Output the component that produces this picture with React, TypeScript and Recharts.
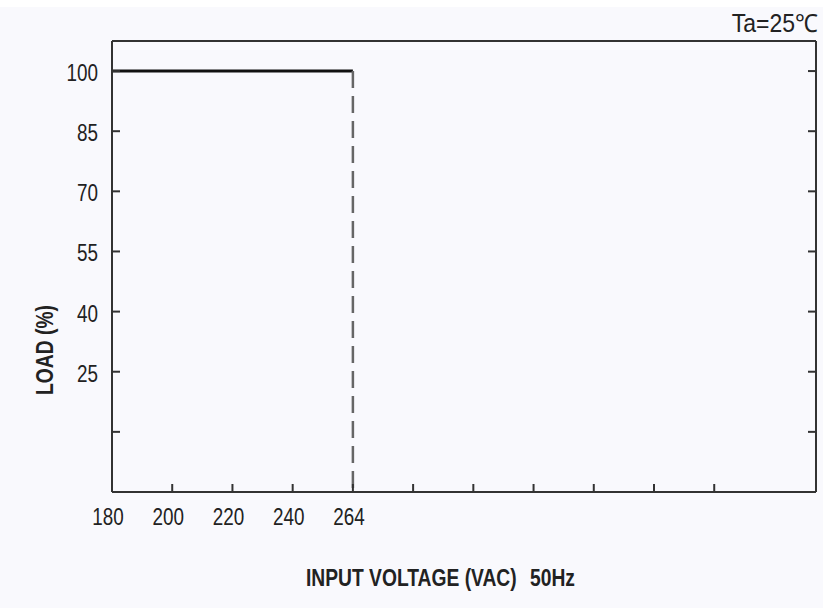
import { LineChart, Line, XAxis, YAxis, Label } from "recharts"

// x axis is drawn on evenly spaced slots, labelled like the datasheet
const voltageTicks = ["180", "200", "220", "240", "264", "", "", "", "", "", ""]
const loadTicks = [10, 25, 40, 55, 70, 85, 100]
const unlabelledLoad = [10]

const ratedVoltage = [180, 264]
const ratedLoad = [100, 100]
const cutoffVoltage = [264, 264]
const cutoffLoad = [100, -5]

const slot = (v: number) => voltageTicks.indexOf(String(v))
const ratedData = ratedVoltage.map((v, i) => ({ pos: slot(v), load: ratedLoad[i] }))
const cutoffData = cutoffVoltage.map((v, i) => ({ pos: slot(v), load: cutoffLoad[i] }))

const sans = "'Liberation Sans', Arial, sans-serif"
const squeeze = 0.82 // fake Arial Narrow
const axisStroke = { stroke: "#333", strokeWidth: 2 }
const slotTicks = voltageTicks.map((_, i) => i)
const xDomain = [0, 11.69]
const yDomain = [-5, 107.5]

function NarrowText({ x, y, anchor, children, size = 23, bold = false, rotate = 0, sx = squeeze }: any) {
  return (
    <g transform={`translate(${x} ${y}) rotate(${rotate}) scale(${sx} 1)`}>
      <text x={0} y={0} textAnchor={anchor} fontFamily={sans} fontSize={size} fontWeight={bold ? "bold" : "normal"} fill="#222">
        {children}
      </text>
    </g>
  )
}

function VoltTick({ x, y, payload }: any) {
  const label = voltageTicks[payload.value] ?? ""
  if (!label) return null
  return (
    <NarrowText x={x - 4} y={y + 17} anchor="middle">
      {label}
    </NarrowText>
  )
}

function LoadTick({ x, y, payload }: any) {
  if (unlabelledLoad.includes(payload.value)) return null
  return (
    <NarrowText x={x} y={y + 10} anchor="end">
      {payload.value}
    </NarrowText>
  )
}

export default function App() {
  return (
    <div
      style={{
        position: "absolute",
        top: 0,
        left: 0,
        width: 823,
        height: 608,
        background: "linear-gradient(#ffffff 0 7px, #f9f9fd 7px)",
      }}
    >
      <svg width={823} height={50} style={{ position: "absolute", top: 0, left: 0 }}>
        <NarrowText x={818} y={32} anchor="end" size={25} sx={0.92}>
          Ta=25℃
        </NarrowText>
      </svg>
      <LineChart width={823} height={608} margin={{ top: 40, right: 6, bottom: 0, left: 0 }} style={{ position: "absolute", top: 0, left: 0 }}>
        <XAxis
          dataKey="pos"
          type="number"
          domain={xDomain}
          ticks={slotTicks}
          interval={0}
          height={116}
          tickSize={-8}
          tickMargin={24}
          axisLine={axisStroke}
          tickLine={axisStroke}
          tick={<VoltTick />}
        >
          <Label
            content={({ viewBox }: any) => (
              <g>
                <NarrowText x={306} y={viewBox.y + 94} anchor="start" size={23.5} bold>
                  INPUT VOLTAGE (VAC)
                </NarrowText>
                <NarrowText x={530} y={viewBox.y + 94} anchor="start" size={23.5} bold>
                  50Hz
                </NarrowText>
              </g>
            )}
          />
        </XAxis>
        <XAxis
          xAxisId="top"
          orientation="top"
          dataKey="pos"
          type="number"
          domain={xDomain}
          height={1}
          tick={false}
          tickLine={false}
          axisLine={axisStroke}
        />
        <YAxis
          type="number"
          domain={yDomain}
          ticks={loadTicks}
          interval={0}
          width={112}
          tickSize={-8}
          tickMargin={22}
          axisLine={axisStroke}
          tickLine={axisStroke}
          tick={<LoadTick />}
        >
          <Label
            content={({ viewBox }: any) => (
              <NarrowText x={viewBox.x + 53} y={viewBox.y + 309} anchor="middle" size={23.5} bold rotate={-90}>
                LOAD (%)
              </NarrowText>
            )}
          />
        </YAxis>
        <YAxis
          yAxisId="right"
          orientation="right"
          type="number"
          domain={yDomain}
          ticks={loadTicks}
          interval={0}
          width={1}
          tickSize={-8}
          axisLine={axisStroke}
          tickLine={axisStroke}
          tick={() => <g />}
        />
        {/* invisible series so the top / right frame axes get drawn */}
        <Line
          data={ratedData}
          dataKey="load"
          xAxisId="top"
          yAxisId="right"
          stroke="none"
          dot={false}
          isAnimationActive={false}
        />
        <Line
          data={ratedData}
          dataKey="load"
          type="linear"
          stroke="#111"
          strokeWidth={3}
          dot={false}
          isAnimationActive={false}
        />
        <Line
          data={cutoffData}
          dataKey="load"
          type="linear"
          stroke="#666"
          strokeWidth={2.5}
          strokeDasharray="17 8"
          dot={false}
          isAnimationActive={false}
        />
      </LineChart>
    </div>
  )
}
